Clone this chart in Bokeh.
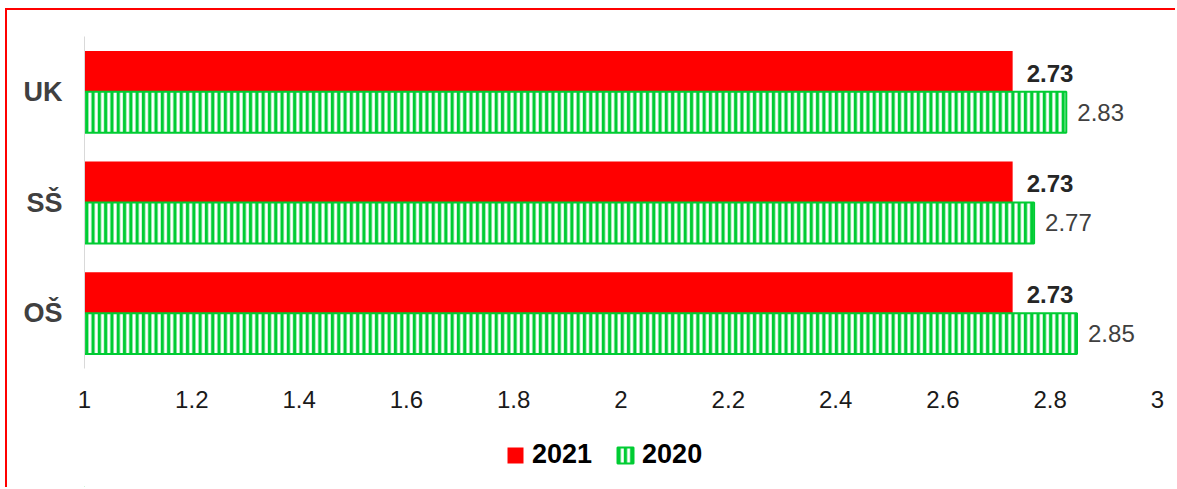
from bokeh.plotting import figure
from bokeh.models import FactorRange, ColumnDataSource, Legend, LegendItem, FixedTicker
from bokeh.layouts import column
from bokeh.transform import dodge
from bokeh.core.properties import value
from bokeh.embed import file_html
from bokeh.resources import INLINE

categories = ["OŠ", "SŠ", "UK"]
v2021 = [2.73, 2.73, 2.73]
v2020 = [2.85, 2.77, 2.83]
series = ["2021", "2020"]
ticks = [1, 1.2, 1.4, 1.6, 1.8, 2, 2.2, 2.4, 2.6, 2.8, 3]

src = ColumnDataSource(dict(cat=categories, v21=v2021, v20=v2020,
                            t21=["%.2f" % v for v in v2021],
                            t20=["%.2f" % v for v in v2020]))

RED = "#ff0000"
GREEN = "#00cc33"
FONT = "Liberation Sans"
W = 1168

p = figure(width=W, height=420, y_range=FactorRange(factors=categories, range_padding=0),
           x_range=(1, 3), output_backend="svg", toolbar_location=None,
           min_border_left=77, min_border_right=18, min_border_top=26, min_border_bottom=62)
p.outline_line_color = None
p.xgrid.visible = False
p.ygrid.visible = False

bar21 = dict(fill_color=RED, line_color=None)
bar20 = dict(fill_color="white", line_color=GREEN, line_width=2,
             hatch_pattern="vertical_line", hatch_color=GREEN, hatch_scale=6.3, hatch_weight=3.3)

p.hbar(y=dodge("cat", 0.185, range=p.y_range), right="v21", left=1, height=0.37,
       source=src, **bar21)
p.hbar(y=dodge("cat", -0.185, range=p.y_range), right="v20", left=1, height=0.37,
       source=src, **bar20)

p.text(x="v21", y=dodge("cat", 0.17, range=p.y_range), text="t21", source=src,
       x_offset=14, text_baseline="middle", text_font=value(FONT), text_font_style="bold",
       text_font_size="24px", text_color="#262626")
p.text(x="v20", y=dodge("cat", -0.185, range=p.y_range), text="t20", source=src,
       x_offset=11, text_baseline="middle", text_font=value(FONT),
       text_font_size="24px", text_color="#404040")

xa = p.xaxis[0]
xa.ticker = FixedTicker(ticks=ticks)
xa.axis_line_color = None
xa.major_tick_line_color = None
xa.minor_tick_line_color = None
xa.major_label_text_font = FONT
xa.major_label_text_font_size = "24px"
xa.major_label_text_color = "#1a1a1a"
xa.major_label_standoff = 16

ya = p.yaxis[0]
ya.axis_line_color = "#d9d9d9"
ya.axis_line_width = 1
ya.major_tick_line_color = None
ya.minor_tick_line_color = None
ya.major_label_text_font = FONT
ya.major_label_text_font_style = "bold"
ya.major_label_text_font_size = "27px"
ya.major_label_text_color = "#404040"
ya.major_label_standoff = 16

# legend strip below the chart (swatch renderers lie outside its visible range)
q = figure(width=W, height=57, x_range=(0, 1), y_range=(0, 1), output_backend="svg",
           toolbar_location=None, min_border=0)
q.axis.visible = False
q.grid.visible = False
q.outline_line_color = None
swatch = ColumnDataSource(dict(y=[-10], right=[-10]))
g21 = q.hbar(y="y", right="right", left=-11, height=0.5, source=swatch, **bar21)
g20 = q.hbar(y="y", right="right", left=-11, height=0.5, source=swatch, **bar20)
legend = Legend(items=[LegendItem(label=series[0], renderers=[g21]),
                       LegendItem(label=series[1], renderers=[g20])],
                orientation="horizontal", location=(421, 17),
                label_text_font=FONT, label_text_font_style="bold", label_text_font_size="27px",
                label_text_color="#000000", glyph_width=20, glyph_height=20,
                spacing=23, label_standoff=7, border_line_color=None,
                background_fill_alpha=0, margin=0, padding=4)
q.add_layout(legend)

page = column(p, q, spacing=0,
              styles={"border-top": "2px solid #ff0000", "border-left": "2px solid #ff0000",
                      "margin-left": "5px", "margin-top": "8px"})
open("out.html", "w").write(file_html(page, INLINE))
